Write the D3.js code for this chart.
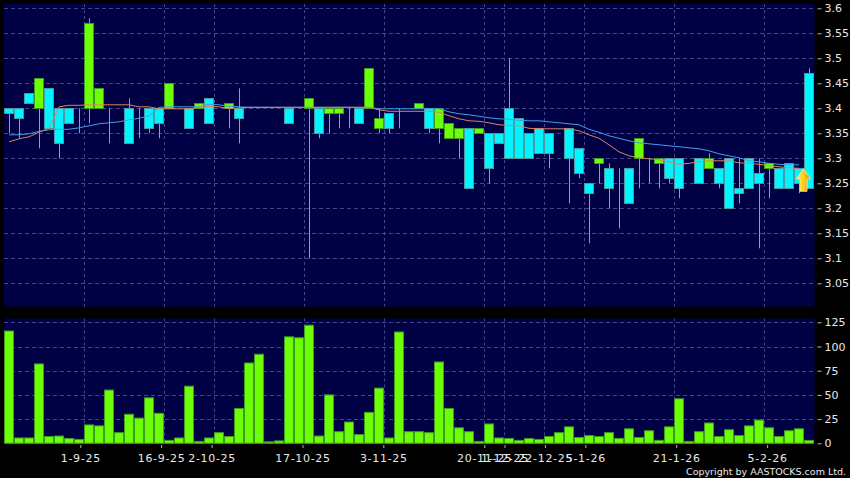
<!DOCTYPE html>
<html>
<head>
<meta charset="utf-8">
<script src="https://cdn.jsdelivr.net/npm/d3@7/dist/d3.min.js"></script>
<style>
html,body{margin:0;padding:0;background:#000;overflow:hidden}
svg{display:block}
text{font-family:"DejaVu Sans",sans-serif;fill:#e8e8e8}
</style>
</head>
<body>
<svg id="chart" width="850" height="478"></svg>
<script>
const opens = [3.39,3.38,3.41,3.46,3.36,3.33,3.37,3.40,3.57,3.44,3.40,3.40,3.33,3.40,3.36,3.37,3.45,3.40,3.36,3.41,3.37,3.40,3.41,3.38,3.40,3.40,3.40,3.40,3.37,3.40,3.42,3.35,3.40,3.40,3.40,3.37,3.48,3.38,3.36,3.40,3.40,3.41,3.36,3.40,3.37,3.36,3.24,3.36,3.28,3.33,3.30,3.30,3.30,3.31,3.31,3.33,3.30,3.27,3.23,3.30,3.24,3.28,3.21,3.34,3.30,3.30,3.26,3.24,3.30,3.25,3.30,3.25,3.20,3.23,3.24,3.25,3.29,3.24,3.24,3.25,3.24];
const closes = [3.40,3.40,3.43,3.40,3.44,3.40,3.40,3.40,3.40,3.40,3.40,3.40,3.40,3.40,3.40,3.40,3.40,3.40,3.40,3.40,3.42,3.40,3.40,3.40,3.40,3.40,3.40,3.40,3.40,3.40,3.40,3.40,3.39,3.39,3.40,3.40,3.40,3.36,3.39,3.40,3.40,3.40,3.40,3.36,3.34,3.34,3.36,3.35,3.35,3.35,3.40,3.38,3.35,3.36,3.35,3.33,3.36,3.32,3.25,3.29,3.28,3.28,3.28,3.30,3.30,3.29,3.30,3.30,3.30,3.30,3.28,3.28,3.30,3.24,3.30,3.27,3.28,3.28,3.29,3.28,3.47];
const highs = [3.40,3.40,3.43,3.46,3.44,3.40,3.40,3.40,3.58,3.44,3.40,3.40,3.42,3.40,3.40,3.40,3.45,3.40,3.40,3.41,3.42,3.40,3.41,3.44,3.40,3.40,3.40,3.40,3.40,3.40,3.42,3.40,3.40,3.40,3.40,3.40,3.48,3.40,3.39,3.40,3.40,3.41,3.40,3.40,3.37,3.36,3.36,3.36,3.35,3.35,3.50,3.38,3.35,3.36,3.35,3.33,3.36,3.32,3.25,3.30,3.29,3.28,3.28,3.34,3.30,3.30,3.30,3.30,3.30,3.30,3.31,3.28,3.30,3.30,3.30,3.30,3.29,3.28,3.29,3.28,3.48];
const lows = [3.35,3.34,3.41,3.32,3.36,3.30,3.37,3.35,3.37,3.40,3.33,3.40,3.33,3.34,3.35,3.34,3.40,3.40,3.36,3.40,3.37,3.40,3.36,3.33,3.40,3.40,3.40,3.40,3.37,3.40,3.10,3.34,3.35,3.36,3.36,3.37,3.40,3.35,3.35,3.36,3.40,3.40,3.35,3.33,3.34,3.30,3.24,3.35,3.25,3.33,3.30,3.30,3.30,3.31,3.28,3.33,3.21,3.26,3.13,3.25,3.20,3.16,3.21,3.24,3.25,3.24,3.25,3.22,3.30,3.25,3.28,3.24,3.20,3.21,3.24,3.12,3.22,3.24,3.24,3.23,3.24];
const volumes = [116,5.5,5.5,82,7,7.5,5,4,19,18,55,11,30,26,47,31,3,5.5,59,2,5.5,11,7,36,83,92,1.5,2.5,110,109,122,7.5,50,12,22,9,32,57,5.5,115,12,12,11,84,36,16,12,2,20,5.5,5,3,5,4,7,11,17,6,8,7,11,5,15,6,13,3,17,46,2,12,21,7,14,8,18,24,16,7,13,15,3];
const maBlue = [3.347,3.347,3.349,3.354,3.357,3.358,3.358,3.361,3.365,3.369,3.371,3.373,3.377,3.380,3.385,3.402,3.403,3.403,3.403,3.403,3.408,3.407,3.404,3.403,3.402,3.402,3.402,3.402,3.402,3.402,3.402,3.402,3.402,3.402,3.402,3.402,3.402,3.399,3.399,3.399,3.399,3.399,3.399,3.399,3.393,3.389,3.387,3.384,3.381,3.379,3.378,3.376,3.375,3.375,3.373,3.371,3.369,3.367,3.358,3.352,3.345,3.340,3.335,3.331,3.329,3.327,3.325,3.323,3.321,3.319,3.315,3.309,3.305,3.301,3.295,3.293,3.290,3.288,3.287,3.287];
const maOrange = [3.333,3.339,3.343,3.352,3.360,3.403,3.406,3.406,3.407,3.407,3.407,3.407,3.407,3.403,3.403,3.399,3.399,3.399,3.399,3.402,3.404,3.403,3.399,3.401,3.402,3.402,3.402,3.402,3.402,3.402,3.402,3.402,3.402,3.402,3.402,3.402,3.402,3.397,3.394,3.394,3.394,3.394,3.394,3.392,3.385,3.379,3.375,3.374,3.371,3.367,3.366,3.365,3.360,3.359,3.359,3.359,3.359,3.355,3.347,3.340,3.327,3.313,3.305,3.301,3.299,3.297,3.293,3.288,3.290,3.293,3.295,3.295,3.295,3.291,3.290,3.288,3.285,3.283,3.281,3.280];
const priceTicks = [3.6,3.55,3.5,3.45,3.4,3.35,3.3,3.25,3.2,3.15,3.1,3.05];
const volumeTicks = [0,25,50,75,100,125];
const dateLabels = ["1-9-25","16-9-25","2-10-25","17-10-25","3-11-25","20-11-25","1-12-25","22-12-25","5-1-26","21-1-26","5-2-26"];
const dateIndex = [8,16,21,30,38,48,50,54,58,67,76];
const arrowIndex = 79;
const arrowPrice = 3.28;
const copyright = "Copyright by AASTOCKS.com Ltd.";

const NAVY="#000044", GRID="#45458f", CYAN="#00f6ff", CYAN_EDGE="#4a9aa6", GREEN="#6cff06", GREEN_EDGE="#3f9a20", WICK="#9a9aa8", AXIS="#b8b8b8";
const L=4,R=814.5,T1=4,B1=306.5,T2=318.5,B2=443.5;

const svg=d3.select("#chart");
const defs=svg.append("defs");
const grad=defs.append("linearGradient").attr("id","arrowFill").attr("x1",0).attr("x2",1).attr("y1",0).attr("y2",0);
grad.append("stop").attr("offset","0%").attr("stop-color","#ffe95a");
grad.append("stop").attr("offset","55%").attr("stop-color","#ffcc14");
grad.append("stop").attr("offset","100%").attr("stop-color","#d08006");

const idx=d3.range(opens.length);
const x=d3.scaleBand().domain(idx).range([L,L+810]).paddingInner(0.1).paddingOuter(0.05);
const y=d3.scaleLinear().domain([3.0,3.6]).range([308.3,8.3]);
const yv=d3.scaleLinear().domain([0,125]).range([443.3,322.3]);
const xt=d3.scaleLinear().domain([0,81]).range([-0.5,817.6]);
const gridX=i=>L+x.step()*i+0.3;

svg.append("rect").attr("x",L).attr("y",T1).attr("width",R-L).attr("height",B1-T1).attr("fill",NAVY);
svg.append("rect").attr("x",L).attr("y",T2).attr("width",R-L).attr("height",B2-T2).attr("fill",NAVY);

function vgrid(t,b){
  svg.append("g").selectAll("line").data(dateIndex).join("line")
    .attr("x1",d=>Math.round(gridX(d))+0.5).attr("x2",d=>Math.round(gridX(d))+0.5)
    .attr("y1",t).attr("y2",b).attr("stroke",GRID).attr("stroke-dasharray","3,3");
}
vgrid(T1,B1);vgrid(T2,B2);
svg.append("g").selectAll("line").data(priceTicks).join("line")
  .attr("x1",L).attr("x2",R).attr("y1",d=>Math.round(y(d))+0.5).attr("y2",d=>Math.round(y(d))+0.5)
  .attr("stroke",GRID).attr("stroke-dasharray","4,3");
svg.append("g").selectAll("line").data(volumeTicks.slice(1)).join("line")
  .attr("x1",L).attr("x2",R).attr("y1",d=>Math.round(yv(d))+0.5).attr("y2",d=>Math.round(yv(d))+0.5)
  .attr("stroke",GRID).attr("stroke-dasharray","4,3");

const cx=i=>Math.floor(x(i)+x.bandwidth()/2)+0.5;
svg.append("g").selectAll("line").data(idx).join("line")
  .attr("x1",cx).attr("x2",cx)
  .attr("y1",i=>y(highs[i])).attr("y2",i=>y(lows[i]))
  .attr("stroke",WICK).attr("stroke-width",1);
svg.append("g").selectAll("rect").data(idx).join("rect")
  .attr("x",i=>Math.floor(x(i))+0.5).attr("width",9)
  .attr("y",i=>Math.round(y(Math.max(opens[i],closes[i])))+0.5)
  .attr("height",i=>Math.abs(y(opens[i])-y(closes[i])))
  .attr("fill",i=>closes[i]>opens[i]?CYAN:GREEN)
  .attr("stroke",i=>opens[i]===closes[i]?WICK:(closes[i]>opens[i]?CYAN_EDGE:GREEN_EDGE));

const lineGen=d3.line().x((d,i)=>x(i)+x.bandwidth()/2).y(d=>y(d));
svg.append("path").attr("d",lineGen(maBlue)).attr("fill","none").attr("stroke","#3f9fe6").attr("stroke-width",1);
svg.append("path").attr("d",lineGen(maOrange)).attr("fill","none").attr("stroke","#d8845f").attr("stroke-width",1);

const ax=x(arrowIndex)+x.bandwidth()/2+4.5, ay=y(arrowPrice)+0.5;
svg.append("path")
  .attr("transform",`translate(${ax},${ay})`)
  .attr("d","M0,0L7,10L3.5,10L3.5,22.5L-3.5,22.5L-3.5,10L-7,10Z")
  .attr("fill","url(#arrowFill)").attr("stroke","#fff0a0").attr("stroke-width",0.8);

svg.append("g").selectAll("rect").data(idx).join("rect")
  .attr("x",i=>Math.floor(x(i))+0.5).attr("width",9)
  .attr("y",i=>yv(volumes[i])).attr("height",i=>yv(0)-yv(volumes[i]))
  .attr("fill",GREEN).attr("stroke",GREEN_EDGE);

const axisR=svg.append("g").attr("transform",`translate(${R+3},0)`).call(d3.axisRight(y).tickValues(priceTicks).tickSize(4).tickPadding(3).tickFormat(d=>String(d)));
const axisV=svg.append("g").attr("transform",`translate(${R+3},0)`).call(d3.axisRight(yv).tickValues(volumeTicks).tickSize(4).tickPadding(3).tickFormat(d=>String(d)));
[axisR,axisV].forEach(a=>{
  a.select(".domain").remove();
  a.selectAll("line").attr("stroke",AXIS);
  a.selectAll("text").attr("font-size",11).attr("font-family",'"DejaVu Sans",sans-serif').attr("fill","#e8e8e8");
});
const axisB=svg.append("g").attr("transform",`translate(0,${B2+1.5})`).call(
  d3.axisBottom(xt).tickValues(dateIndex).tickSize(3).tickPadding(6).tickFormat(d=>dateLabels[dateIndex.indexOf(d)]));
axisB.select(".domain").remove();
axisB.selectAll("line").attr("stroke",AXIS);
axisB.selectAll("text").attr("font-size",11).attr("letter-spacing","0.7px").attr("font-family",'"DejaVu Sans",sans-serif').attr("fill","#e8e8e8");

svg.append("text").attr("x",846).attr("y",475).attr("text-anchor","end").attr("font-size",9.5).text(copyright);
</script>
</body>
</html>
